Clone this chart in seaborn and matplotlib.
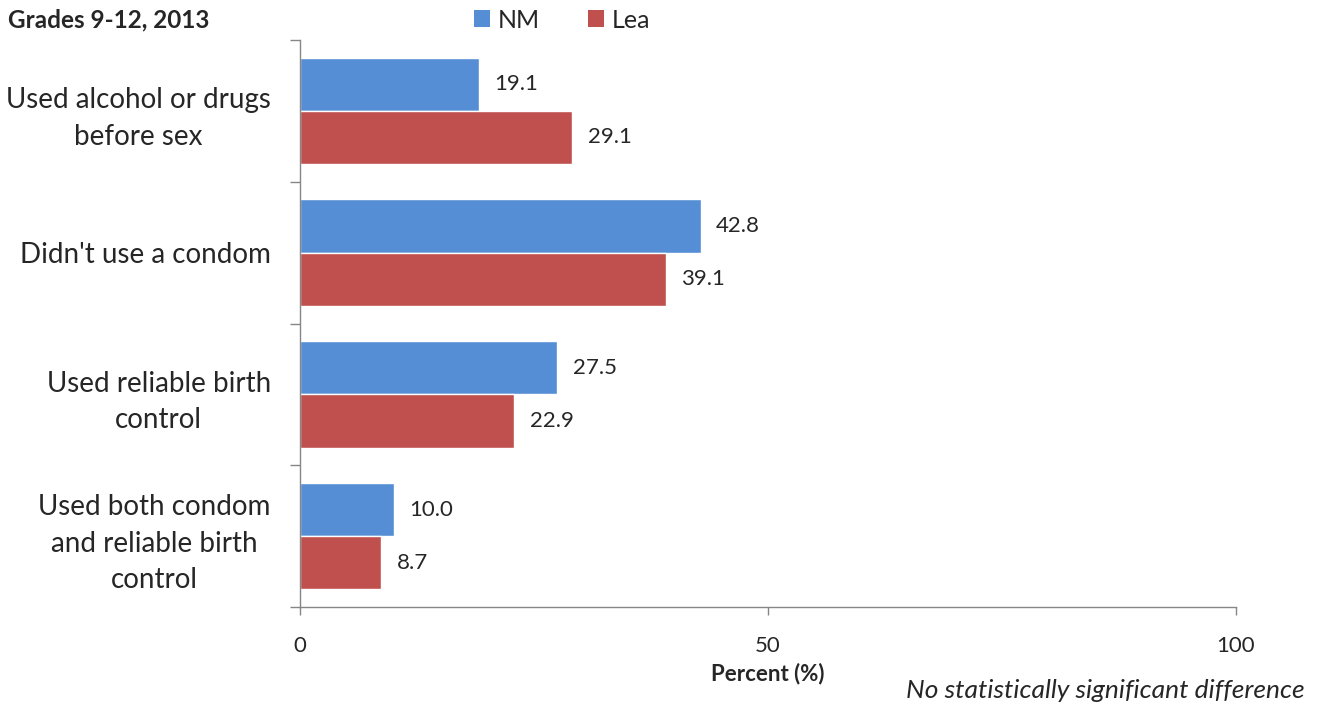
import matplotlib
matplotlib.use("Agg")
import matplotlib.pyplot as plt
import matplotlib.transforms as mtrans
import seaborn as sns
import pandas as pd
from matplotlib.patches import Patch

categories = ["Used alcohol or drugs\nbefore sex", "Didn't use a condom",
              "Used reliable birth\ncontrol", "Used both condom\nand reliable birth\ncontrol"]
series = ["NM", "Lea"]
nm_values = [19.1, 42.8, 27.5, 10.0]
lea_values = [29.1, 39.1, 22.9, 8.7]
colors = ["#558ED5", "#C0504D"]

df = pd.DataFrame({
    "category": categories * 2,
    "series": ["NM"] * 4 + ["Lea"] * 4,
    "value": nm_values + lea_values,
})

sns.set_theme(style="white")
plt.rcParams['font.family'] = ['Lato', 'DejaVu Sans']

fig = plt.figure(figsize=(13.22, 7.07), dpi=100)
ax = fig.add_axes([300/1322, 1-607/707, (1236-300)/1322, (607-40)/707])

sns.barplot(data=df, y="category", x="value", hue="series", order=categories,
            hue_order=series, palette=colors, orient="h", width=0.75,
            saturation=1, legend=False, ax=ax)

for cont in ax.containers:
    ax.bar_label(cont, fmt="%.1f", padding=11, fontsize=16)

ax.set_xlim(0, 100)
ax.set_ylim(3.5, -0.5)
ax.set_xticks([0, 50, 100])
ax.set_xticklabels(["0", "50", "100"], fontsize=16)
ax.set_yticks(range(4))
ax.set_yticklabels(categories, fontsize=20, multialignment="center", linespacing=1.5)
shift = mtrans.ScaledTranslation(0, 4/100, fig.dpi_scale_trans)
for lbl in ax.get_yticklabels():
    if "\n" in lbl.get_text():
        lbl.set_transform(lbl.get_transform() + shift)
ax.set_yticks([-0.5, 0.5, 1.5, 2.5, 3.5], minor=True)
ax.tick_params(axis="y", which="major", length=0, pad=21)
ax.tick_params(axis="y", which="minor", length=7, color="#868686", width=1, left=True)
ax.tick_params(axis="x", which="major", length=6, color="#868686", width=1, bottom=True, pad=15)
ax.set_xlabel("Percent (%)", fontsize=16, fontweight="bold", labelpad=5)
ax.set_ylabel("")

for s in ["top", "right"]:
    ax.spines[s].set_visible(False)
for s in ["left", "bottom"]:
    ax.spines[s].set_color("#868686")
    ax.spines[s].set_linewidth(1)

fig.text(8/1322, 1-20/707, "Grades 9-12, 2013", fontsize=17.5, fontweight="bold",
         ha="left", va="center")
fig.text(1305/1322, 1-690/707, "No statistically significant difference", fontsize=19,
         style="italic", ha="right", va="center")

handles = [Patch(facecolor=c, edgecolor="none") for c in colors]
fig.legend(handles, series, loc="center", bbox_to_anchor=(562/1322, 1-20/707), ncol=2,
           frameon=False, fontsize=18, handlelength=0.64, handleheight=0.64,
           handletextpad=0.32, columnspacing=1.9, borderpad=0)

fig.savefig("out.png", dpi=100)
